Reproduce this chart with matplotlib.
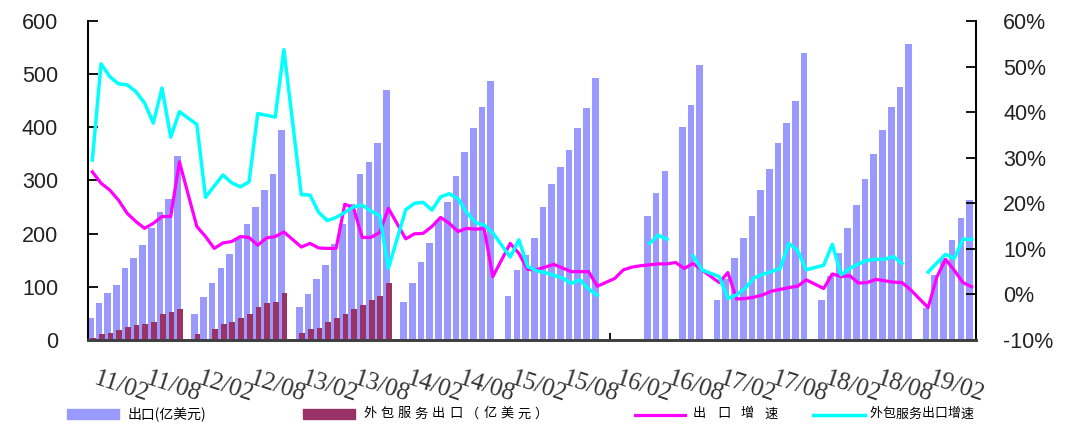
import numpy as np
import matplotlib.pyplot as plt
from matplotlib.patches import Rectangle
from matplotlib.lines import Line2D

nan = np.nan

# one slot per month starting 2011/02; January is not published (Jan-Feb reported together)
# each row: Feb ... Dec, Jan of next year
exports = [
    41, 69, 89, 103, 135, 155, 179, 210, 241, 265, 347, nan,
    49, 80, 107, 135, 162, 191, 219, 251, 282, 312, 395, nan,
    63, 87, 114, 141, 180, 219, 255, 312, 335, 370, 470, nan,
    72, 107, 147, 182, 225, 260, 309, 353, 398, 439, 487, nan,
    83, 132, 160, 192, 251, 293, 326, 357, 398, 436, 493, nan,
    nan, nan, nan, nan, 233, 277, 318, nan, 401, 442, 517, nan,
    75, 115, 154, 192, 233, 282, 322, 371, 408, 450, 539, nan,
    75, 120, 164, 210, 254, 302, 350, 395, 439, 476, 556, nan,
    60, 122, 155, 189, 230, 264,
]

outsourcing = [
    3, 11, 14, 18, 25, 28, 31, 34, 48, 52, 59, nan,
    11, nan, 20, 31, 34, 41, 49, 62, 69, 72, 89, nan,
    14, 20, 23, 34, 41, 49, 58, 66, 75, 83, 107, nan,
] + [nan] * 66

export_growth = [
    26.9, 24.4, 22.9, 20.7, 17.8, 16.0, 14.5, 15.6, 17.1, 17.1, 29.1, nan,
    14.9, 12.7, 10.1, 11.3, 11.6, 12.7, 12.5, 10.8, 12.4, 12.7, 13.7, nan,
    10.4, 11.2, 10.2, 10.1, 10.1, 19.8, 19.0, 12.5, 12.5, 13.6, 18.9, nan,
    12.2, 13.3, 13.4, 14.9, 16.9, 15.6, 13.8, 14.5, 14.3, 14.5, 3.9, nan,
    11.2, 9.0, 5.5, 5.4, 6.0, 6.6, 5.8, 5.0, 5.0, 5.0, 1.8, nan,
    3.5, 5.4, 6.0, 6.3, 6.5, 6.7, 6.7, 7.0, 5.7, 6.8, 5.4, nan,
    2.6, 4.8, -1.0, -0.9, -0.6, -0.1, 0.7, 1.1, 1.5, 1.8, 3.2, nan,
    1.3, 4.5, 3.9, 4.1, 2.5, 2.6, 3.3, 3.0, 2.7, 2.6, 1.0, nan,
    -2.9, 3.8, 7.7, 5.3, 2.6, 1.7,
]

outsourcing_growth = [
    29.5, 50.6, 47.8, 46.2, 46.0, 44.5, 42.0, 37.6, 45.3, 34.5, 40.1, nan,
    37.3, 21.3, 23.8, 26.2, 24.5, 23.6, 24.7, 39.7, 39.3, 38.9, 53.7, nan,
    21.9, 21.8, 18.0, 16.2, 16.9, 18.0, 19.2, 19.6, 18.3, 17.3, 5.7, nan,
    18.6, 20.0, 20.2, 18.5, 21.4, 22.1, 21.0, 18.0, 15.8, 15.2, 13.5, nan,
    8.2, 12.0, 6.1, 5.2, 4.8, 4.2, 3.6, 2.4, 3.2, 1.2, -0.2, nan,
    nan, nan, nan, nan, 11.2, 13.0, 12.1, nan, nan, 8.5, 5.4, nan,
    3.9, -0.9, -0.1, 1.4, 3.6, 4.4, 5.0, 5.7, 11.2, 9.7, 5.4, nan,
    6.4, 11.0, 4.3, 5.7, 6.7, 7.5, 7.7, 7.7, 8.3, 6.8, nan, nan,
    4.9, 6.9, 8.8, 7.9, 12.1, 12.1,
]

tick_labels = ['11/02', '11/08', '12/02', '12/08', '13/02', '13/08', '14/02', '14/08',
               '15/02', '15/08', '16/02', '16/08', '17/02', '17/08', '18/02', '18/08', '19/02']

legend_labels = ['出口(亿美元)', '外包服务出口（亿美元）', '出口增速', '外包服务出口增速']

BLUE = '#9999ff'
PLUM = '#993366'
MAGENTA = '#ff00ff'
CYAN = '#00ffff'
CJK = ['Noto Sans CJK SC', 'DejaVu Sans']

plt.rcParams['font.family'] = ['Liberation Sans', 'DejaVu Sans']

W, H = 1072, 428
fig = plt.figure(figsize=(W / 100, H / 100), dpi=100)
ax = fig.add_axes([88 / W, 1 - 340 / H, 888 / W, 319 / H])
ax2 = ax.twinx()

n = len(exports)
x = np.arange(n)

ax.bar(x - 0.24, exports, width=0.76, color=BLUE, zorder=2)
ax.bar(x + 0.08, outsourcing, width=0.66, color=PLUM, zorder=3)


def bridged(vals):
    # join across a single missing January, break on longer gaps
    vals = np.asarray(vals, dtype=float)
    idx = np.flatnonzero(~np.isnan(vals))
    xs, ys = [], []
    for k, i in enumerate(idx):
        if k and i - idx[k - 1] > 2:
            xs.append(nan)
            ys.append(nan)
        xs.append(i)
        ys.append(vals[i])
    return xs, ys


ax2.plot(*bridged(export_growth), color=MAGENTA, lw=2.3)
ax2.plot(*bridged(outsourcing_growth), color=CYAN, lw=2.5)

ax.set_xlim(-0.5, n - 0.5)
ax.set_ylim(0, 600)
ax2.set_ylim(-10, 60)

ax.set_yticks(range(0, 601, 100))
ax2.set_yticks(range(-10, 61, 10))
ax2.set_yticklabels([f'{v}%' for v in range(-10, 61, 10)])

ax.tick_params(axis='y', direction='in', length=7, width=1.3, pad=21.5,
               labelsize=15.5, labelcolor='#222222')
ax2.tick_params(axis='y', direction='in', length=7, width=1.3, pad=19.5,
                labelsize=15.5, labelcolor='#222222')

ax.set_xticks(np.arange(-0.5, n, 6))
ax.set_xticklabels([])
ax.tick_params(axis='x', direction='in', length=5, width=1.3)

for a in (ax, ax2):
    a.spines['top'].set_visible(False)
    a.spines['left'].set_linewidth(1.3)
    a.spines['right'].set_linewidth(1.3)
    a.spines['bottom'].set_color('#404040')
    a.spines['bottom'].set_linewidth(2)

for k, lab in enumerate(tick_labels):
    ax.text(3.3 + 6 * k, -0.147, lab, transform=ax.get_xaxis_transform(),
            ha='center', va='center', rotation=-18, rotation_mode='anchor',
            fontsize=18, family='Liberation Serif', color='#333333')


def spaced_text(s, x0, x1, y, size):
    # spread the characters evenly between x0 and x1 (figure pixels)
    cw = size * 100 / 72
    pitch = (x1 - x0 - cw) / (len(s) - 1)
    for j, ch in enumerate(s):
        fig.text((x0 + j * pitch) / W, 1 - y / H, ch, ha='left', va='center',
                 fontsize=size, family=CJK)


# legend row along the bottom
fig.add_artist(Rectangle((67 / W, 1 - 419 / H), 52 / W, 10 / H,
                         transform=fig.transFigure, color=BLUE))
fig.text(128 / W, 1 - 414 / H, legend_labels[0], ha='left', va='center',
         fontsize=10, family=CJK)
fig.add_artist(Rectangle((303 / W, 1 - 419 / H), 52 / W, 10 / H,
                         transform=fig.transFigure, color=PLUM))
spaced_text(legend_labels[1], 363, 548, 414, 9.5)
fig.add_artist(Line2D([635 / W, 685 / W], [1 - 415 / H] * 2,
                      transform=fig.transFigure, color=MAGENTA, lw=2.3))
spaced_text(legend_labels[2], 693, 778, 414, 9.5)
fig.add_artist(Line2D([813 / W, 865 / W], [1 - 415 / H] * 2,
                      transform=fig.transFigure, color=CYAN, lw=2.5))
spaced_text(legend_labels[3], 870, 973, 414, 9.3)

fig.savefig('out.png', dpi=100)
